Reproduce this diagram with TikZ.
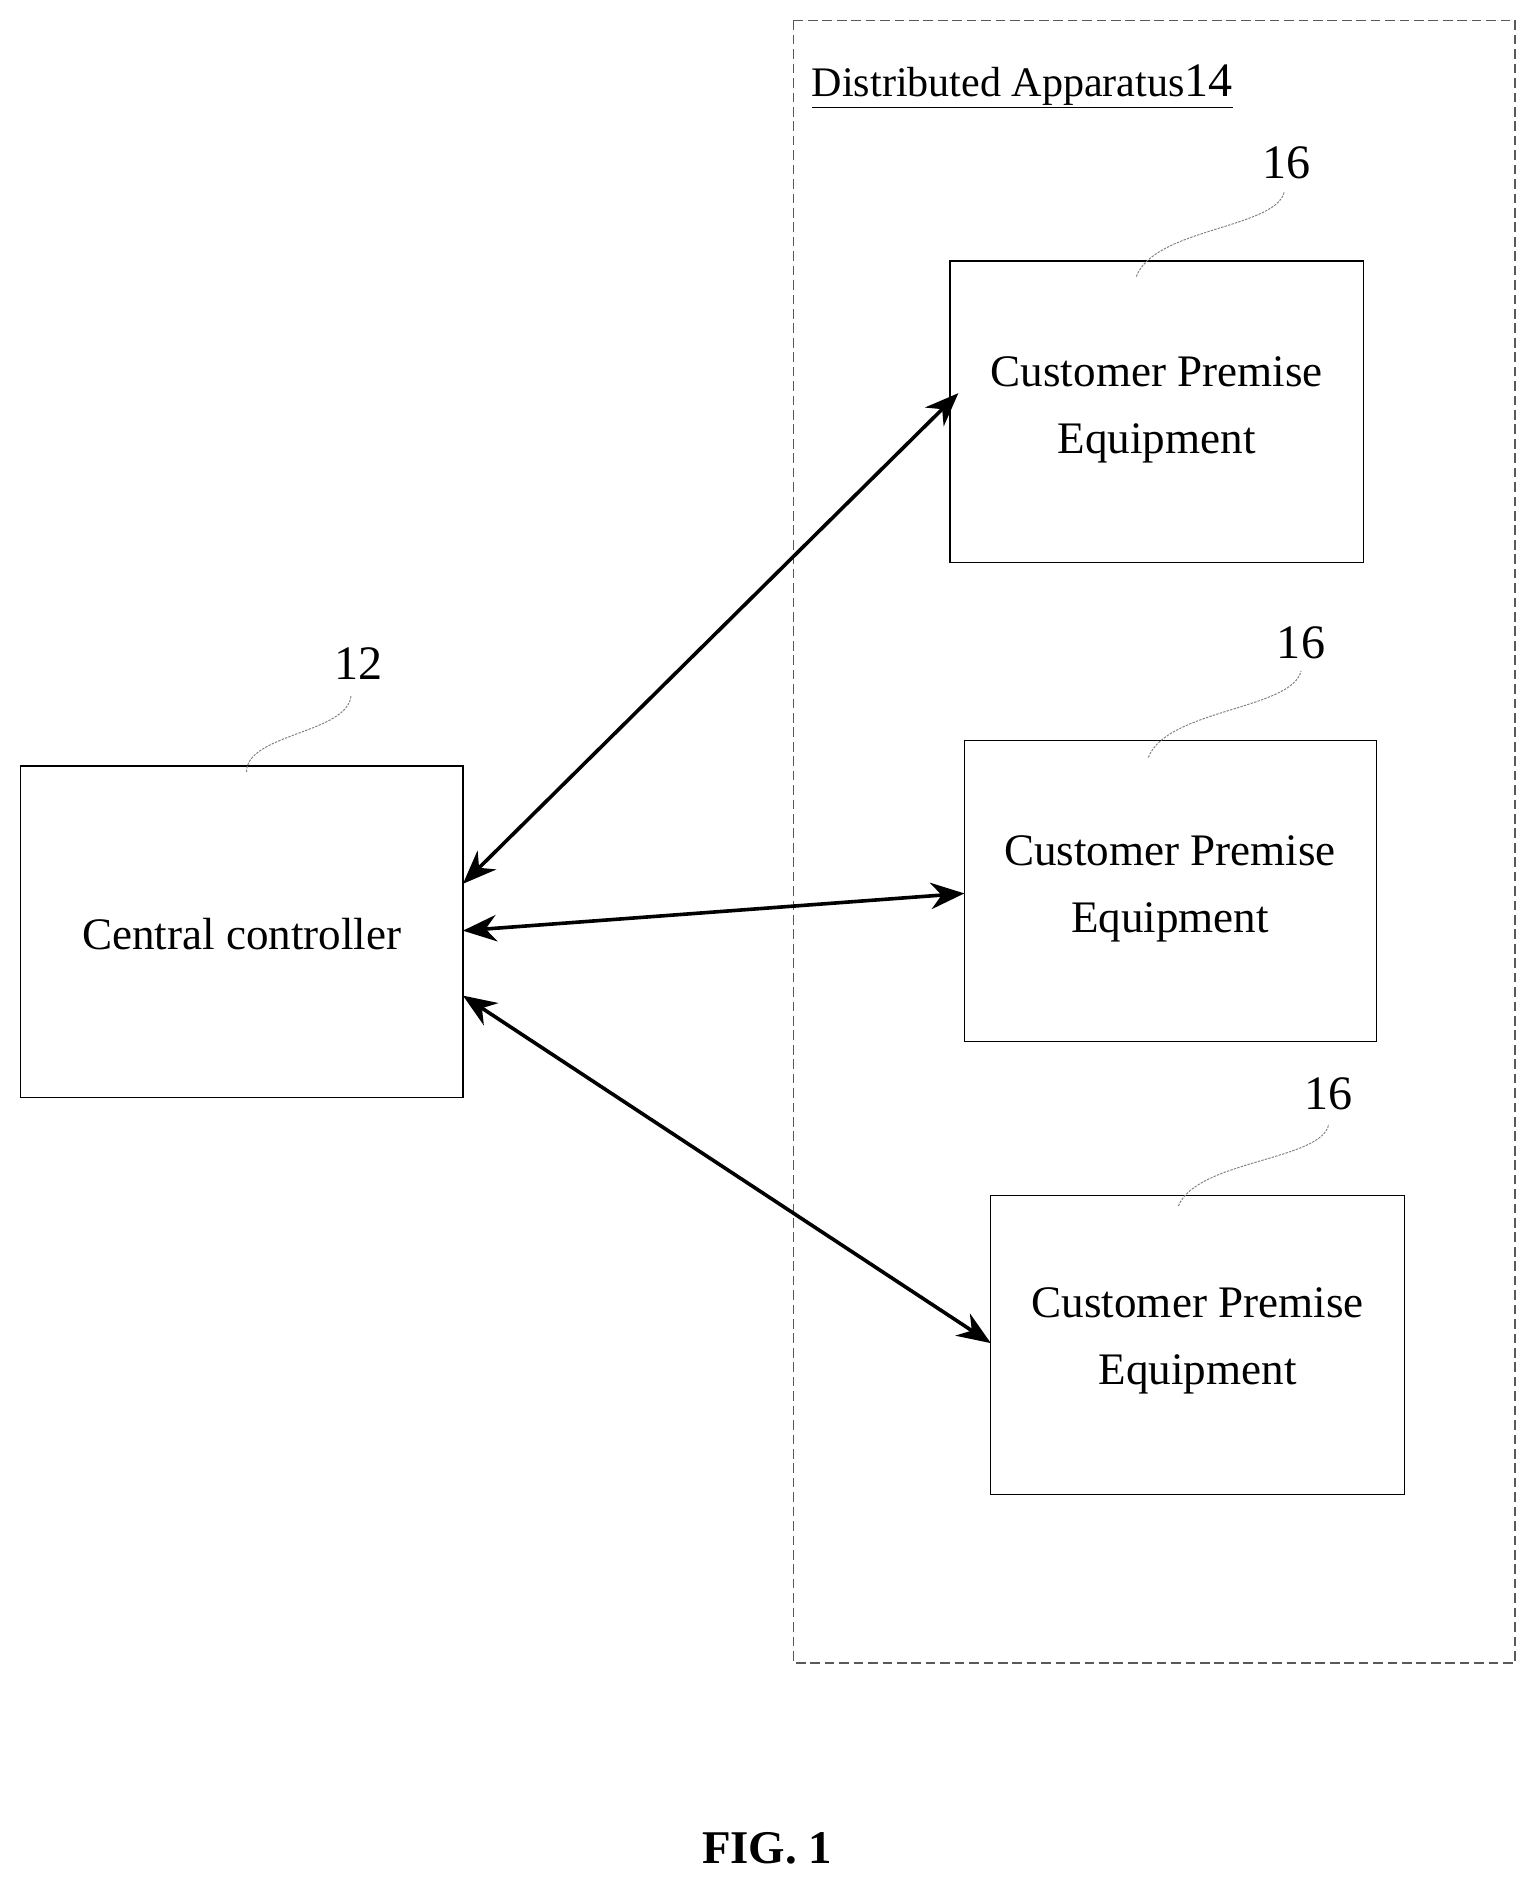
\documentclass[tikz,border=0pt]{standalone}
\usepackage{fontspec}
\setmainfont{Liberation Serif}
\usetikzlibrary{arrows.meta}
\begin{document}
\begin{tikzpicture}[x=1pt,y=-1pt,
 box/.style={draw,line width=1pt,fill=white},
 txt/.style={font=\fontsize{37.5}{56}\selectfont,align=center},
 num/.style={font=\fontsize{40}{44}\selectfont},
 lead/.style={gray,dashed,dash pattern=on 2pt off 1pt,line width=0.8pt},
 arr/.style={line width=3pt,{Stealth[length=28pt,width=22pt]}-{Stealth[length=28pt,width=22pt]}}]
\useasboundingbox (0,0) rectangle (1280,1571);
\draw[gray!70!black,dashed,dash pattern=on 8pt off 4pt,line width=1pt] (660,17) rectangle (1260,1383);
\node[anchor=base west,font=\fontsize{35}{40}\selectfont,inner sep=0pt] (da) at (675,80) {\underline{Distributed Apparatus{\fontsize{40}{40}\selectfont 14}}};
\draw[box] (17,637) rectangle (385,913);
\node[txt] (cc) at (201,777) {Central controller};
\draw[box] (790,217) rectangle (1134,468); \node[txt] (c1) at (962,341) {Customer Premise\\Equipment};
\draw[box] (802,616) rectangle (1145,866); \node[txt] (c2) at (973,739) {Customer Premise\\Equipment};
\draw[box] (824,994) rectangle (1168,1243); \node[txt] (c3) at (996,1115) {Customer Premise\\Equipment};
\coordinate (a1s) at (385,735); \coordinate (a1e) at (797,327);
\coordinate (a2s) at (385,774); \coordinate (a2e) at (802,743);
\coordinate (a3s) at (385,828); \coordinate (a3e) at (824,1117);
\draw[arr] (a1s) -- (a1e);
\draw[arr] (a2s) -- (a2e);
\draw[arr] (a3s) -- (a3e);
\node[num] (n12) at (298,552) {12};
\node[num] (n16a) at (1070,135) {16};
\node[num] (n16b) at (1082,535) {16};
\node[num] (n16c) at (1105,910) {16};
\draw[lead] (205,642) .. controls (205,610) and (290,610) .. (292,578);
\draw[lead] (945,230) .. controls (960,190) and (1060,190) .. (1068,160);
\draw[lead] (955,630) .. controls (970,590) and (1075,590) .. (1082,558);
\draw[lead] (980,1003) .. controls (995,965) and (1100,965) .. (1105,935);
\node[font=\fontsize{39}{44}\selectfont\bfseries] (fig) at (638,1537) {FIG. 1};
\end{tikzpicture}
\end{document}
